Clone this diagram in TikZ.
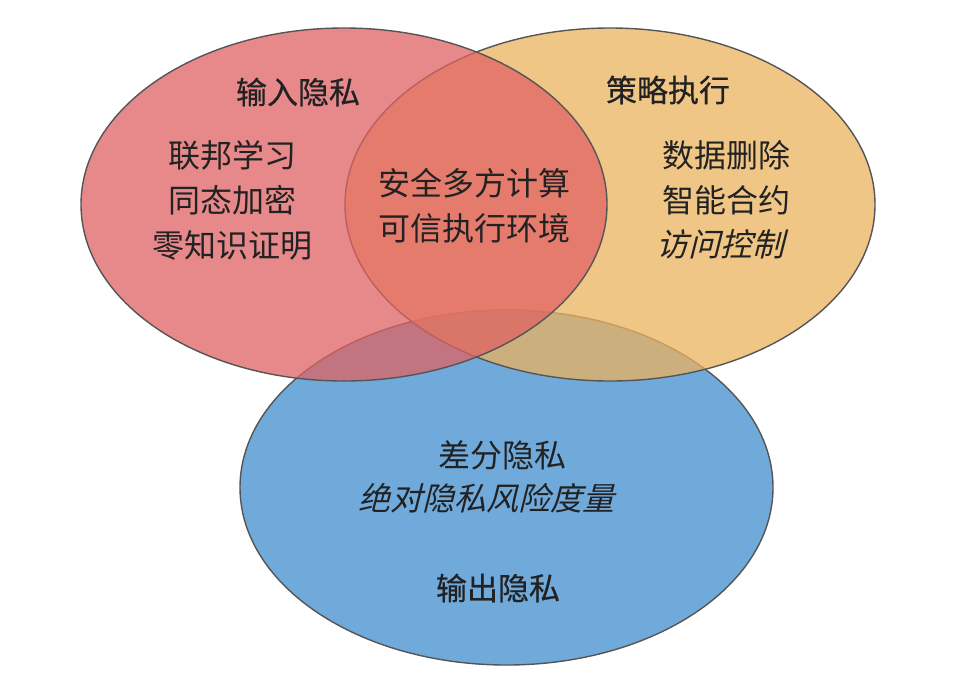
\documentclass[tikz,border=0pt]{standalone}
\usepackage{fontspec}
\newfontfamily\cjk{Noto Sans CJK SC}
\newfontfamily\cjktitle{Noto Sans CJK SC}[FakeBold=0.5]
\newfontfamily\cjkit{Noto Sans CJK SC}[FakeSlant=0.25]
\definecolor{cblue}{HTML}{6FAADB}
\definecolor{corange}{HTML}{EBB360}
\definecolor{cred}{HTML}{E06263}
\definecolor{cline}{HTML}{555555}
\definecolor{ctext}{HTML}{222222}
\begin{document}
\begin{tikzpicture}[x=1pt,y=-1pt,
  setshape/.style={draw=cline, line width=1.4pt, fill opacity=0.75},
  title/.style={text=ctext, font=\cjktitle\fontsize{31}{36}\selectfont, inner sep=0pt},
  item/.style={text=ctext, font=\cjk\fontsize{32}{45}\selectfont, align=center, inner sep=0pt},
  itemit/.style={text=ctext, font=\cjkit\fontsize{32}{45}\selectfont, inner sep=0pt}]
\useasboundingbox (0,0) rectangle (963,689);
\fill[white] (0,0) rectangle (963,689);
% ellipses
\draw[setshape, fill=cblue, fill opacity=1] (506.5,487.5) ellipse [x radius=266.5, y radius=177.5];
\draw[setshape, fill=corange] (610,204.5) ellipse [x radius=265, y radius=176.5];
\draw[setshape, fill=cred] (344,204.5) ellipse [x radius=263, y radius=176.5];
% titles
\node[title] (tin) at (298,92) {输入隐私};
\node[title] (tpol) at (668,90) {策略执行};
\node[title] (tout) at (498,588) {输出隐私};
% input items
\node[item] (i1) at (232,155) {联邦学习};
\node[item] (i2) at (232,200) {同态加密};
\node[item] (i3) at (232,245) {零知识证明};
% center
\node[item] (c1) at (474,183) {安全多方计算};
\node[item] (c2) at (474,228) {可信执行环境};
% policy items
\node[item] (p1) at (726,155) {数据删除};
\node[item] (p2) at (726,200) {智能合约};
\node[itemit] (p3) at (720,244) {访问控制};
% output items
\node[item] (o1) at (502,455) {差分隐私};
\node[itemit] (o2) at (486,498) {绝对隐私风险度量};
\end{tikzpicture}
\end{document}
